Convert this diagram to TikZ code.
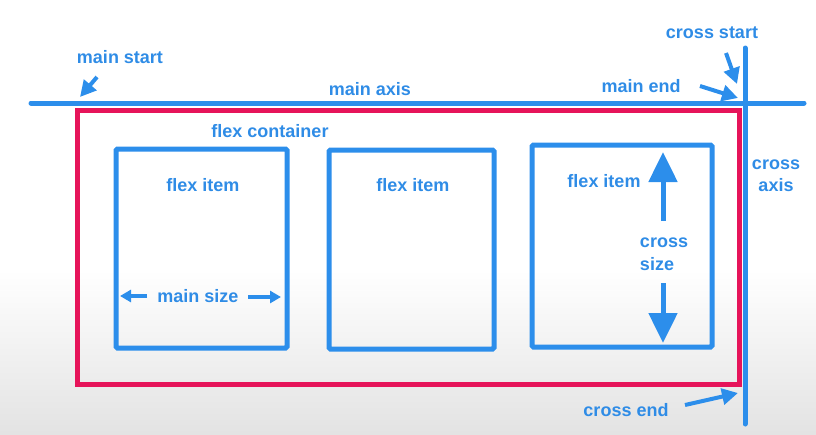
\documentclass[tikz,border=0pt]{standalone}
\usepackage{fontspec}
\setmainfont{Liberation Sans}
\usetikzlibrary{arrows.meta}
\definecolor{fblue}{HTML}{2C8EEB}
\definecolor{ftext}{HTML}{2F8CE6}
\definecolor{fred}{HTML}{E6145A}
\tikzset{
  lbl/.style={text=ftext, font=\fontsize{18}{20}\selectfont\bfseries, inner sep=0pt, align=center},
  axisline/.style={draw=fblue, line width=5pt, line cap=round},
  itembox/.style={draw=fblue, line width=5pt, rounded corners=1.5pt, inner sep=0pt},
  contbox/.style={draw=fred, line width=5pt, inner sep=0pt},
  pointer/.style={draw=fblue, fill=fblue, line width=4pt, -{Triangle[width=16pt,length=16pt]}},
  bigpointer/.style={draw=fblue, fill=fblue, line width=5pt, -{Triangle[width=28pt,length=30pt]}},
  smallpointer/.style={draw=fblue, fill=fblue, line width=3.5pt, -{Triangle[width=12pt,length=11pt]}}
}
\begin{document}
\begin{tikzpicture}[x=1pt,y=-1pt]
\useasboundingbox (0,0) rectangle (816,434);
\shade[top color=white, bottom color=black!11] (0,270) rectangle (816,434);
% container
\node[contbox, minimum width=662pt, minimum height=274pt] (cont) at (408,247) {};
% axes
\coordinate (ma1) at (31,103);
\coordinate (ma2) at (804,103);
\draw[axisline] (ma1) -- (ma2);
\coordinate (ca1) at (745,48);
\coordinate (ca2) at (745,424);
\draw[axisline] (ca1) -- (ca2);
% items
\node[itembox, minimum width=171pt, minimum height=199pt] (item1) at (201.5,248.5) {};
\node[itembox, minimum width=165pt, minimum height=199pt] (item2) at (411.5,249.5) {};
\node[itembox, minimum width=180pt, minimum height=202pt] (item3) at (622,246) {};
% labels
\node[lbl] (lms) at (120,57) {main start};
\node[lbl] (lma) at (370,89) {main axis};
\node[lbl] (lme) at (641,86) {main end};
\node[lbl] (lcs) at (712,33) {cross start};
\node[lbl] (lfc) at (270,131) {flex container};
\node[lbl] (lca) at (776,176) {cross\\[2pt]axis};
\node[lbl] (li1) at (203,185) {flex item};
\node[lbl] (li2) at (413,185) {flex item};
\node[lbl] (li3) at (604,181) {flex item};
\node[lbl] (lmsz) at (198,296) {main size};
\node[lbl, align=left] (lcsz) at (664,254) {cross\\[3pt]size};
\node[lbl] (lce) at (626,410) {cross end};
% pointers
\coordinate (ms1) at (97,77);
\coordinate (ms2) at (80,97);
\draw[pointer] (ms1) -- (ms2);
\coordinate (me1) at (700,86);
\coordinate (me2) at (738,98);
\draw[pointer] (me1) -- (me2);
\coordinate (cs1) at (726,53);
\coordinate (cs2) at (737,84);
\draw[pointer] (cs1) -- (cs2);
\coordinate (ce1) at (685,405);
\coordinate (ce2) at (738,393);
\draw[pointer] (ce1) -- (ce2);
% main size
\coordinate (mz1) at (147,296);
\coordinate (mz2) at (120,296);
\draw[smallpointer] (mz1) -- (mz2);
\coordinate (mz3) at (248,297);
\coordinate (mz4) at (281,297);
\draw[smallpointer] (mz3) -- (mz4);
% cross size
\coordinate (cz1) at (663,221);
\coordinate (cz2) at (663,152);
\draw[bigpointer] (cz1) -- (cz2);
\coordinate (cz3) at (663,283);
\coordinate (cz4) at (663,343);
\draw[bigpointer] (cz3) -- (cz4);
\end{tikzpicture}
\end{document}
